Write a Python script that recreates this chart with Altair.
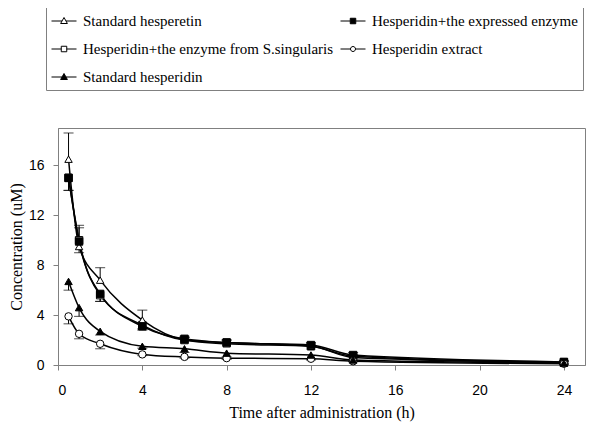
import altair as alt
import pandas as pd

times = [0.5, 1, 2, 4, 6, 8, 12, 14, 24]
series = [
    "Standard hesperetin",
    "Hesperidin+the expressed enzyme",
    "Hesperidin+the enzyme from S.singularis",
    "Hesperidin extract",
    "Standard hesperidin",
]
# concentration (uM)
std_hesperetin = [16.5, 9.5, 6.8, 3.6, 2.0, 1.7, 1.5, 0.6, 0.2]
expressed_enzyme = [15.0, 9.9, 5.7, 3.1, 2.1, 1.8, 1.6, 0.8, 0.25]
singularis_enzyme = [15.0, 10.0, 5.6, 3.2, 2.0, 1.8, 1.5, 0.7, 0.2]
hesperidin_extract = [3.9, 2.5, 1.7, 0.85, 0.65, 0.55, 0.5, 0.3, 0.1]
std_hesperidin = [6.7, 4.6, 2.7, 1.5, 1.3, 0.95, 0.8, 0.4, 0.15]
# one-sided error bars (signed: + up, - down)
err_std_hesperetin = [2.1, -0.5, 1.0, 0.8, 0.2, 0.1, 0.1, 0.1, 0.05]
err_expressed = [-1.0, 1.1, -0.6, -0.3, 0.2, 0.2, 0.2, 0.2, 0.1]
err_singularis = [-1.0, 1.2, -0.5, -0.3, 0.2, 0.2, 0.2, 0.1, 0.1]
err_extract = [-0.6, -0.4, -0.4, -0.1, -0.1, -0.1, -0.1, -0.05, -0.05]
err_std_hesperidin = [-0.7, -0.7, -0.3, -0.15, -0.3, -0.3, -0.3, -0.1, -0.05]

values = [std_hesperetin, expressed_enzyme, singularis_enzyme, hesperidin_extract, std_hesperidin]
errors = [err_std_hesperetin, err_expressed, err_singularis, err_extract, err_std_hesperidin]

# drawing order: the open-square series lies beneath the filled-square series
draw_order = [2, 0, 1, 3, 4]
rows = []
for i in draw_order:
    s, vals, errs = series[i], values[i], errors[i]
    for t, v, e in zip(times, vals, errs):
        rows.append({"series": s, "t": t, "c": v, "e": v + e})
df = pd.DataFrame(rows)

shapes = ["triangle-up", "square", "square", "circle", "triangle-up"]
fills = ["white", "black", "white", "white", "black"]
strokes = ["black"] * 5
legend_shapes = [
    "M-1,0L-0.16,0M0.16,0L1,0M0,-0.28L0.27,0.2L-0.27,0.2Z",
    "M-1,0L-0.22,0M0.22,0L1,0M-0.22,-0.22L0.22,-0.22L0.22,0.22L-0.22,0.22Z",
    "M-1,0L-0.22,0M0.22,0L1,0M-0.22,-0.22L0.22,-0.22L0.22,0.22L-0.22,0.22Z",
    "M-1,0L-0.2,0M0.2,0L1,0M-0.2,0A0.2,0.2,0,1,0,0.2,0A0.2,0.2,0,1,0,-0.2,0Z",
    "M-1,0L-0.16,0M0.16,0L1,0M0,-0.28L0.27,0.2L-0.27,0.2Z",
]

SERIF = "Liberation Serif"
SANS = "Liberation Sans"

xenc = alt.X(
    "t:Q",
    scale=alt.Scale(domain=[0, 25], nice=False, zero=False),
    axis=alt.Axis(
        values=[0, 4, 8, 12, 16, 20, 24],
        title="Time after administration (h)",
        grid=False,
        domainColor="#808080",
        tickColor="#808080",
        tickSize=5,
        labelFont=SANS,
        labelFontSize=14,
        labelColor="black",
        labelPadding=13,
        titleFont=SERIF,
        titleFontSize=16,
        titleFontWeight="normal",
        titleColor="black",
        titlePadding=7,
    ),
)
yenc = alt.Y(
    "c:Q",
    scale=alt.Scale(domain=[0, 19], nice=False),
    axis=alt.Axis(
        values=[0, 4, 8, 12, 16],
        title="Concentration (uM)",
        grid=False,
        domainColor="#808080",
        tickColor="#808080",
        tickSize=5,
        labelFont=SANS,
        labelFontSize=14,
        labelColor="black",
        labelPadding=9,
        titleFont=SERIF,
        titleFontSize=16,
        titleFontWeight="normal",
        titleColor="black",
        titlePadding=4,
    ),
)

base = alt.Chart(df)

lines = base.mark_line(interpolate="monotone", color="black", strokeWidth=1.5).encode(
    x=xenc, y=yenc, detail="series:N"
)
rules = base.mark_rule(color="black", strokeWidth=1).encode(x="t:Q", y="c:Q", y2="e:Q")
caps = base.mark_tick(color="black", orient="horizontal", size=10, thickness=1).encode(
    x="t:Q", y="e:Q"
)
points = base.mark_point(filled=True, opacity=1, stroke="black", strokeWidth=1, size=55).encode(
    x="t:Q",
    y="c:Q",
    shape=alt.Shape("series:N", scale=alt.Scale(domain=series, range=shapes), legend=None),
    fill=alt.Fill("series:N", scale=alt.Scale(domain=series, range=fills), legend=None),
)

leg = alt.Legend(
    orient="none",
    legendX=-12,
    legendY=-125,
    columns=2,
    direction="horizontal",
    title=None,
    labelFont=SERIF,
    labelFontSize=15,
    labelColor="black",
    labelLimit=400,
    labelOffset=6,
    symbolSize=625,
    symbolStrokeWidth=1,
    symbolOpacity=1,
    strokeColor="#808080",
    padding=5,
    rowPadding=7,
    columnPadding=4,
)
legend_layer = (
    base.transform_filter("datum.t < 0")
    .mark_point(filled=True, opacity=1, strokeWidth=1)
    .encode(
        x="t:Q",
        y="c:Q",
        shape=alt.Shape("series:N", scale=alt.Scale(domain=series, range=legend_shapes), legend=leg),
        fill=alt.Fill("series:N", scale=alt.Scale(domain=series, range=fills), legend=leg),
        stroke=alt.Stroke("series:N", scale=alt.Scale(domain=series, range=strokes), legend=leg),
    )
)

chart = (
    alt.layer(lines, rules, caps, points, legend_layer)
    .resolve_scale(shape="independent", fill="independent", stroke="independent")
    .properties(
        width=527,
        height=237,
        autosize=alt.AutoSizeParams(type="none"),
        padding={"left": 50, "top": 120, "right": 7, "bottom": 60},
        background="white",
    )
    .configure(font=SERIF)
    .configure_view(stroke="#808080", strokeWidth=1)
    .configure_legend(labelFont=SERIF, labelFontSize=15)
)

chart.save("out.html", embed_options={"renderer": "svg", "actions": False})
